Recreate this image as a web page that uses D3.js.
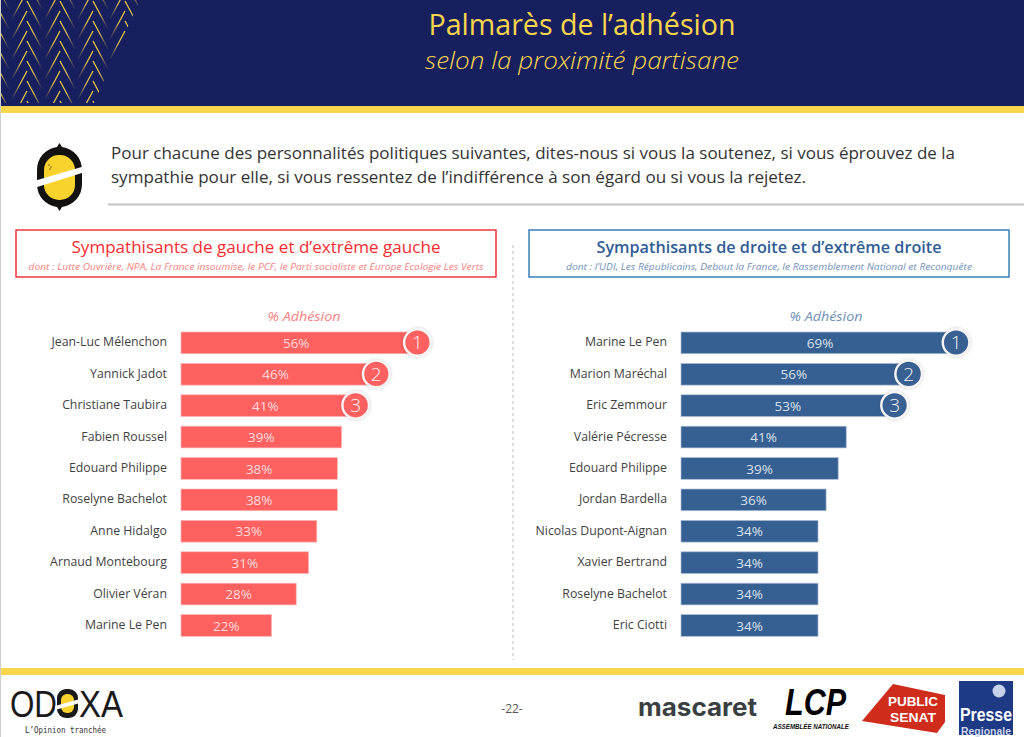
<!DOCTYPE html>
<html><head><meta charset="utf-8">
<script src="https://cdn.jsdelivr.net/npm/d3@7"></script>
<style>html,body{margin:0;padding:0;background:#fff;overflow:hidden}svg{display:block}text{font-family:"Open Sans",sans-serif}</style>
</head><body><svg id="c" width="1024" height="737"></svg>
<script>
const namesLeft=["Jean-Luc Mélenchon","Yannick Jadot","Christiane Taubira","Fabien Roussel","Edouard Philippe","Roselyne Bachelot","Anne Hidalgo","Arnaud Montebourg","Olivier Véran","Marine Le Pen"];
const valuesLeft=[56,46,41,39,38,38,33,31,28,22];
const namesRight=["Marine Le Pen","Marion Maréchal","Eric Zemmour","Valérie Pécresse","Edouard Philippe","Jordan Bardella","Nicolas Dupont-Aignan","Xavier Bertrand ","Roselyne Bachelot","Eric Ciotti"];
const valuesRight=[69,56,53,41,39,36,34,34,34,34];
const ranks=[1,2,3];
const title="Palmarès de l’adhésion", subtitle="selon la proximité partisane";
const question=["Pour chacune des personnalités politiques suivantes, dites-nous si vous la soutenez, si vous éprouvez de la","sympathie pour elle, si vous ressentez de l’indifférence à son égard ou si vous la rejetez."];

const svg=d3.select("#c");
const defs=svg.append("defs");
const f=defs.append("filter").attr("id","sh").attr("x","-30%").attr("y","-30%").attr("width","160%").attr("height","160%");
f.append("feDropShadow").attr("dx",0).attr("dy",0).attr("stdDeviation",1.5).attr("flood-color","#000").attr("flood-opacity",.22);
const g1=defs.append("linearGradient").attr("id","gold").attr("x1",0).attr("y1",0).attr("x2",0).attr("y2",1);
g1.append("stop").attr("offset","0").attr("stop-color","#f5d53a");
g1.append("stop").attr("offset","0.45").attr("stop-color","#e3c54a");
g1.append("stop").attr("offset","1").attr("stop-color","#8a8050").attr("stop-opacity",.1);
defs.append("clipPath").attr("id","hdr").append("path").attr("d","M1,0 L140,0 L94,103 L1,103 Z");

function T(x,y,s,o={}){
  const t=svg.append("text").attr("x",x).attr("y",y).text(s)
    .attr("font-size",o.size||13).attr("fill",o.fill||"#404040")
    .attr("text-anchor",o.anchor||"start");
  if(o.italic)t.attr("font-style","italic");
  if(o.weight)t.attr("font-weight",o.weight);
  if(o.family)t.style("font-family",o.family);
  if(o.len)t.attr("textLength",o.len).attr("lengthAdjust","spacingAndGlyphs");
  return t;
}

// page frame
svg.append("rect").attr("width",1024).attr("height",737).attr("fill","#fff");
svg.append("rect").attr("width",1).attr("height",737).attr("fill","#cfcfcf");
svg.append("rect").attr("x",1).attr("width",1023).attr("height",106).attr("fill","#171f5e");
svg.append("rect").attr("x",1).attr("y",106).attr("width",1023).attr("height",7).attr("fill","#fad64e");
svg.append("rect").attr("x",1).attr("y",668).attr("width",1023).attr("height",7).attr("fill","#fad64e");

// header herringbone
const chev=svg.append("g").attr("clip-path","url(#hdr)").attr("fill","none").attr("stroke","url(#gold)").attr("stroke-width",1.2);
[-6,27,60,93,125].forEach(cx=>{
  d3.range(-2,6).forEach(r=>{
    const y=1+r*20;
    chev.append("path").attr("d",`M${cx},${y} L${cx+15},${y+28}`);
    chev.append("path").attr("d",`M${cx},${y+10} L${cx-15},${y+38}`);
  });
});

T(582,34.5,title,{size:30,fill:"#fad64e",anchor:"middle",len:307});
T(582,69,subtitle,{size:24,fill:"#fad64e",anchor:"middle",italic:true,weight:300,len:314});

// question icon
const ic=svg.append("g");
ic.append("path").attr("d","M59.5,143 L62,147 C74,149 82,158 82,170 L82,184 C82,196 74,205 62,207 L59.5,211 L57,207 C45,205 37,196 37,184 L37,170 C37,158 45,149 57,147 Z").attr("fill","#141210");
ic.append("rect").attr("x",44).attr("y",155).attr("width",31).attr("height",45).attr("rx",15).attr("fill","#f8d32e");
ic.append("path").attr("d","M34,181 L85,166 L85,172 L34,188 Z").attr("fill","#fff");
[[49,165],[51,167],[50,169]].forEach(d=>ic.append("circle").attr("cx",d[0]).attr("cy",d[1]).attr("r",.7).attr("fill","#5a4a10"));
T(111,159,question[0],{size:16.5,fill:"#333",len:844});
T(111,183,question[1],{size:16.5,fill:"#333",len:695});
svg.append("rect").attr("x",108).attr("y",203.5).attr("width",916).attr("height",2).attr("fill","#c4c4c4");

// divider
svg.append("line").attr("x1",513).attr("x2",513).attr("y1",245).attr("y2",660).attr("stroke","#bdbdbd").attr("stroke-dasharray","3 3");

function panel(o){
  svg.append("rect").attr("x",o.boxX).attr("y",230).attr("width",480).attr("height",47).attr("fill","#fff").attr("stroke",o.border).attr("stroke-width",1.4);
  T(o.boxX+240,253,o.head,{size:16.5,fill:o.headColor,anchor:"middle",len:o.headLen,weight:o.headWeight});
  T(o.boxX+240,270,o.sub,{size:9,fill:o.subColor,anchor:"middle",italic:true,len:o.subLen});
  T(o.adhX,321,"% Adhésion",{size:13,fill:o.subColor,anchor:"middle",italic:true,len:73});

  const x=d3.scaleLinear().domain([0,100]).range([o.x0,o.x0+o.k*100]);
  const y=d3.scaleBand().domain(o.names).range([327.3,641.3]).paddingInner(0.3).paddingOuter(0.15);
  const g=svg.append("g");
  o.names.forEach((n,i)=>{
    const v=o.values[i], yy=y(n);
    g.append("rect").attr("x",x(0)).attr("y",yy).attr("width",x(v)-x(0)).attr("height",21.7).attr("fill",o.color).attr("stroke",o.edge).attr("stroke-width",.7);
    T(o.x0-14,yy+14.4,n,{size:12.3,fill:"#3f3f3f",anchor:"end"});
    T((x(0)+x(v))/2,yy+16,v+"%",{size:13.5,fill:o.valueColor,anchor:"middle"});
  });
  ranks.forEach((r,i)=>{
    const n=o.names[i],cx=x(o.values[i])+o.offs[i],cy=y(n)+10.5;
    g.append("circle").attr("cx",cx).attr("cy",cy).attr("r",13.3).attr("fill",o.color).attr("stroke","#f4f4f4").attr("stroke-width",2.4).attr("filter","url(#sh)");
    T(cx,cy+6.8,r,{size:19,fill:"#f5f5f5",anchor:"middle",weight:300});
  });
}
panel({boxX:16,border:"#f0282d",head:"Sympathisants de gauche et d’extrême gauche",headColor:"#fb2a2f",headLen:369,
  sub:"dont : Lutte Ouvrière, NPA, La France insoumise, le PCF, le Parti socialiste et Europe Ecologie Les Verts",subColor:"#ff8080",subLen:455,
  adhX:304,names:namesLeft,values:valuesLeft,x0:181,k:4.115,color:"#ff6060",edge:"#ffb5b5",valueColor:"#ffdcdc",offs:[6,6,6]});
panel({boxX:529,border:"#2e75b6",head:"Sympathisants de droite et d’extrême droite",headColor:"#2f5d95",headLen:345,headWeight:600,
  sub:"dont : l’UDI, Les Républicains, Debout la France, le Rassemblement National et Reconquête",subColor:"#6f8fb8",subLen:406,
  adhX:826,names:namesRight,values:valuesRight,x0:681,k:4.03,color:"#376092",edge:"#a9bdd6",valueColor:"#d8e0ec",offs:[-3,2,0]});

// footer
T(10,716.5,"OD",{size:37,fill:"#1a1a1a",len:47,family:"'Liberation Sans',sans-serif"});
const oc=svg.append("g");
oc.append("rect").attr("x",57).attr("y",689).attr("width",21).attr("height",29).attr("rx",9).attr("fill","#1a1a1a");
oc.append("rect").attr("x",61).attr("y",694).attr("width",13).attr("height",19).attr("rx",6).attr("fill","#f8d32e");
oc.append("path").attr("d","M55,706 L80,699 L80,703 L55,710 Z").attr("fill","#fff");
T(79,716.5,"XA",{size:37,fill:"#1a1a1a",len:44,family:"'Liberation Sans',sans-serif"});
T(25,733,"L’Opinion tranchée",{size:8.5,fill:"#333",len:81,family:"'DejaVu Sans Mono',monospace"});
T(512,713,"-22-",{size:12,fill:"#555",anchor:"middle"});
T(638,716,"mascaret",{size:25,fill:"#3a3f42",weight:700,len:119,family:"Inter,sans-serif"});
T(785,715,"LCP",{size:36.5,fill:"#000",weight:700,italic:true,len:61,family:"'Liberation Sans',sans-serif"});
T(773,729,"ASSEMBLÉE NATIONALE",{size:7.5,fill:"#111",weight:700,italic:true,len:76,family:"'Liberation Sans',sans-serif"});
svg.append("path").attr("d","M862,721 L893,684 L945,695 L945,722 L937,733 Z").attr("fill","#cf2c1c");
T(913,706,"PUBLIC",{size:12,fill:"#fff",weight:700,anchor:"middle",len:50,family:"'Liberation Sans',sans-serif"});
T(913,722,"SENAT",{size:13,fill:"#fff",weight:700,anchor:"middle",len:46,family:"'Liberation Sans',sans-serif"});
svg.append("rect").attr("x",959).attr("y",681).attr("width",54).attr("height",54).attr("fill","#1f3a85");
svg.append("circle").attr("cx",999).attr("cy",691).attr("r",6.5).attr("fill","#c6d2ea");
T(986,721,"Presse",{size:18,fill:"#fff",weight:700,anchor:"middle",len:52,family:"'Liberation Sans Narrow','Liberation Sans',sans-serif"});
T(986,734.5,"Regionale",{size:11,fill:"#cfd8ec",weight:700,anchor:"middle",len:50,family:"'Liberation Sans Narrow','Liberation Sans',sans-serif"});
</script></body></html>
